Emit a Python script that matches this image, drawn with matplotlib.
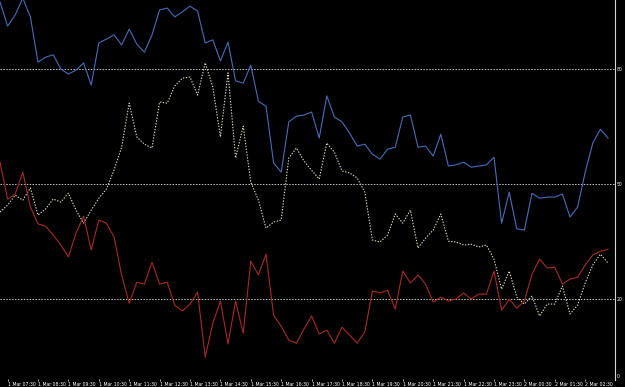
import numpy as np
import matplotlib
matplotlib.use('Agg')
import matplotlib.pyplot as plt

# 15 minute bars, 1 Mar 07:15 .. 2 Mar 03:15
blue = [97.5, 91.2, 94.1, 98.5, 93.6, 81.8, 83.1, 83.7, 80.0, 78.7,
        79.7, 81.6, 75.8, 86.8, 87.8, 88.9, 86.3, 90.4, 86.5, 84.4,
        88.9, 95.4, 95.9, 93.6, 94.9, 96.4, 95.1, 86.8, 87.6, 82.1,
        87.0, 76.9, 76.3, 81.0, 71.6, 70.3, 55.5, 53.1, 66.2, 67.7,
        68.0, 68.8, 62.0, 73.0, 67.5, 66.2, 63.3, 59.9, 60.4, 57.8,
        56.5, 59.1, 59.6, 67.5, 68.0, 59.6, 59.9, 57.3, 63.0, 54.7,
        55.0, 55.7, 54.4, 54.7, 55.0, 57.0, 39.8, 47.9, 38.3, 38.0,
        47.6, 46.3, 46.6, 46.6, 47.4, 41.4, 44.0, 53.1, 60.7, 64.3,
        62.0]

white = [42.7, 44.5, 47.1, 45.8, 49.0, 41.9, 43.5, 46.1, 45.3, 47.6,
         43.2, 39.8, 43.2, 46.3, 48.7, 53.6, 59.6, 71.1, 62.3, 60.4,
         59.4, 71.4, 71.1, 75.6, 77.6, 77.9, 73.2, 81.6, 75.3, 62.3,
         79.0, 56.8, 65.1, 50.5, 45.8, 38.5, 40.1, 40.6, 56.8, 59.4,
         56.0, 53.6, 51.3, 60.7, 58.3, 53.4, 52.9, 51.6, 47.9, 35.4,
         34.9, 36.7, 42.2, 39.8, 43.2, 33.3, 35.9, 38.0, 42.2, 35.1,
         34.9, 34.1, 34.3, 33.6, 34.1, 30.4, 22.6, 27.3, 20.5, 18.7,
         20.8, 15.6, 18.7, 18.7, 23.4, 16.1, 18.4, 24.2, 28.9, 31.7,
         29.4]

red = [55.7, 46.1, 47.4, 53.1, 44.0, 39.6, 39.0, 36.7, 34.1, 31.0,
       37.2, 41.6, 32.8, 40.6, 39.8, 36.2, 26.3, 18.9, 24.4, 23.9,
       29.6, 23.9, 24.4, 18.4, 16.9, 18.7, 21.8, 4.9, 13.7, 19.5,
       8.3, 19.5, 11.1, 29.9, 26.3, 31.7, 15.8, 12.9, 9.3, 8.5,
       12.2, 15.6, 10.9, 11.9, 8.5, 12.7, 10.6, 8.5, 11.4, 22.1,
       21.6, 22.3, 17.4, 27.3, 24.2, 26.3, 23.9, 19.2, 20.5, 19.5,
       20.0, 21.6, 20.0, 21.3, 21.3, 27.3, 17.1, 20.0, 17.6, 19.5,
       26.5, 30.4, 28.1, 28.3, 23.9, 25.2, 25.7, 28.9, 31.5, 32.5,
       33.0]

time_labels = ['1 Mar 07:30', '1 Mar 08:30', '1 Mar 09:30', '1 Mar 10:30',
               '1 Mar 11:30', '1 Mar 12:30', '1 Mar 13:30', '1 Mar 14:30',
               '1 Mar 15:30', '1 Mar 16:30', '1 Mar 17:30', '1 Mar 18:30',
               '1 Mar 19:30', '1 Mar 20:30', '1 Mar 21:30', '1 Mar 22:30',
               '1 Mar 23:30', '2 Mar 00:30', '2 Mar 01:30', '2 Mar 02:30']
levels = [0, 20, 50, 80]

x = np.arange(len(blue))
label_pos = np.arange(1, len(x), 4)[:len(time_labels)]

fig = plt.figure(figsize=(6.25, 3.87), dpi=100, facecolor='black')
ax = fig.add_axes([0, 7 / 387, 615 / 625, 380 / 387], facecolor='black')

for lv in levels[1:]:
    ax.axhline(lv, color='#c8c8c8', lw=0.7, ls=(0, (1.5, 1.5)), zorder=1)

ax.plot(x, blue, color='#4a6cb8', lw=0.8, zorder=3)
ax.plot(x, white, color='#e0e0c4', lw=0.8, ls=(0, (1.2, 1.4)), zorder=3)
ax.plot(x, red, color='#a52c26', lw=0.8, zorder=3)

ax.set_xlim(0, 615 / 7.6)
ax.set_ylim(-1.1, 98.0)

for s in ['top', 'left', 'bottom']:
    ax.spines[s].set_visible(False)
ax.spines['right'].set_color('#d8d8d8')
ax.spines['right'].set_linewidth(0.8)

ax.yaxis.tick_right()
ax.set_yticks(levels)
ax.set_yticklabels([str(v) for v in levels])
ax.tick_params(axis='y', length=0, pad=1.5, labelsize=3.3, labelcolor='white')

ax.set_xticks(label_pos)
ax.set_xticklabels(time_labels)
ax.tick_params(axis='x', length=2, width=0.6, color='#d0d0d0', direction='inout',
               pad=0.3, labelsize=3.3, labelcolor='white')
for t in ax.get_xticklabels():
    t.set_ha('left')

fig.savefig('out.png', dpi=100, facecolor='black')
